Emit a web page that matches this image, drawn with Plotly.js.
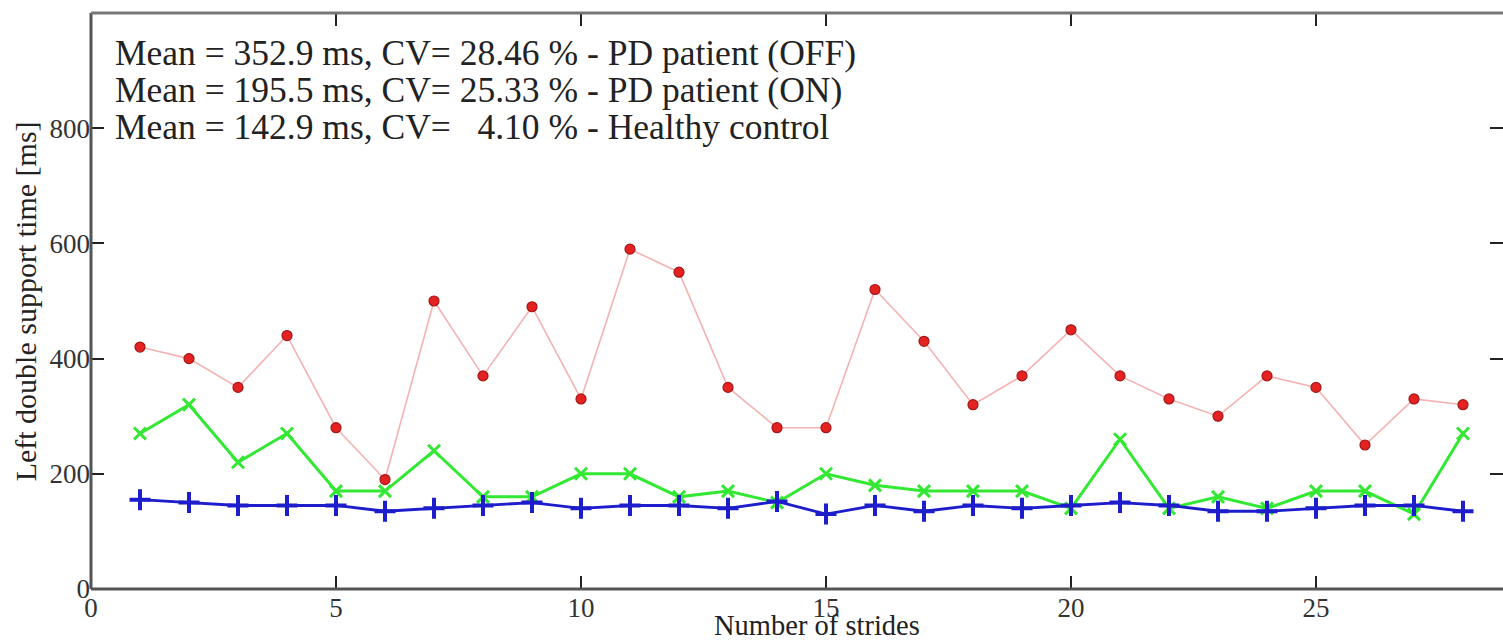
<!DOCTYPE html>
<html>
<head>
<meta charset="utf-8">
<script src="https://cdn.plot.ly/plotly-3.0.1.min.js"></script>
<style>
  html, body { margin: 0; padding: 0; background: #fff; }
  #chart { width: 1503px; height: 641px; }
</style>
</head>
<body>
<div id="chart"></div>
<script>
const strides = [1,2,3,4,5,6,7,8,9,10,11,12,13,14,15,16,17,18,19,20,21,22,23,24,25,26,27,28];
const pdOff = [420,400,350,440,280,190,500,370,490,330,590,550,350,280,280,520,430,320,370,450,370,330,300,370,350,250,330,320];
const pdOn = [270,320,220,270,170,170,240,160,160,200,200,160,170,150,200,180,170,170,170,140,260,140,160,140,170,170,130,270];
const healthy = [155,150,145,145,145,135,140,145,150,140,145,145,140,152,130,145,135,145,140,145,150,145,135,135,140,145,145,135];
const xTicks = [0,5,10,15,20,25];
const yTicks = [0,200,400,600,800];
const statLines = [
  "Mean = 352.9 ms, CV= 28.46 % - PD patient (OFF)",
  "Mean = 195.5 ms, CV= 25.33 % - PD patient (ON)",
  "Mean = 142.9 ms, CV=&nbsp;&nbsp;&nbsp;4.10 % - Healthy control"
];
const xTitle = "Number of strides";
const yTitle = "Left double support time [ms]";

const serif = "Liberation Serif, Times New Roman, serif";

const traces = [
  {
    x: strides, y: pdOff, type: "scatter", mode: "lines+markers", name: "PD patient (OFF)",
    line: {color: "#f4b3b3", width: 1.6},
    marker: {symbol: "circle", size: 10, color: "#e42222", line: {color: "#a51515", width: 1.2}}
  },
  {
    x: strides, y: pdOn, type: "scatter", mode: "lines+markers", name: "PD patient (ON)",
    line: {color: "#33e833", width: 3},
    marker: {symbol: "x-thin-open", size: 12, color: "#33e833", line: {color: "#33e833", width: 3}}
  },
  {
    x: strides, y: healthy, type: "scatter", mode: "lines+markers", name: "Healthy control",
    line: {color: "#1d1dcc", width: 2.8},
    marker: {symbol: "cross-thin-open", size: 15, color: "#1d1dcc", line: {color: "#1d1dcc", width: 4}}
  }
];

// one text block; the outer size sets the line spacing (1.3 em), the inner span sets glyph size
const statText = statLines.map(t => '<span style="font-size:35.5px">' + t + '</span>').join('<br>');

const annotations = [
  {
    text: statText, xref: "paper", yref: "y", x: 0.0156, y: (589 - 90) / 0.576,
    xanchor: "left", yanchor: "middle", align: "left", showarrow: false,
    font: {family: serif, size: 28.5, color: "#222"}
  },
  {
    text: xTitle, xref: "paper", yref: "paper", x: 0.5145, y: -0.064,
    xanchor: "center", yanchor: "middle", showarrow: false,
    font: {family: serif, size: 28.5, color: "#222"}
  },
  {
    text: yTitle, xref: "paper", yref: "paper", x: -0.0465, y: 0.5,
    xanchor: "center", yanchor: "middle", showarrow: false, textangle: -90,
    font: {family: serif, size: 30, color: "#222"}
  }
];

const axisColor = "#555";
const layout = {
  width: 1503, height: 641,
  margin: {l: 91, r: 0, t: 13, b: 52},
  paper_bgcolor: "#fff", plot_bgcolor: "#fff",
  showlegend: false,
  xaxis: {
    range: [0, 1412/49], tickvals: xTicks, ticktext: xTicks.map(String),
    ticks: "inside", ticklen: 13, tickwidth: 2, tickcolor: "#222",
    showline: false, mirror: "ticks", showgrid: false, zeroline: false,
    tickfont: {family: serif, size: 27, color: "#333"}
  },
  yaxis: {
    range: [0, 1000], tickvals: yTicks, ticktext: yTicks.map(String),
    ticks: "inside", ticklen: 13, tickwidth: 2, tickcolor: "#222",
    showline: false, mirror: "ticks", showgrid: false, zeroline: false,
    tickfont: {family: serif, size: 27, color: "#333"}
  },
  shapes: [
    {type: "line", xref: "paper", yref: "paper", x0: 0, x1: 0, y0: 0, y1: 1, line: {color: axisColor, width: 3}},
    {type: "line", xref: "paper", yref: "paper", x0: 0, x1: 1, y0: 0, y1: 0, line: {color: axisColor, width: 3}},
    {type: "line", xref: "paper", yref: "paper", x0: 0, x1: 1, y0: 1, y1: 1, line: {color: "#777", width: 3}}
  ],
  annotations: annotations
};

Plotly.newPlot("chart", traces, layout, {displayModeBar: false, staticPlot: true});
</script>
</body>
</html>
